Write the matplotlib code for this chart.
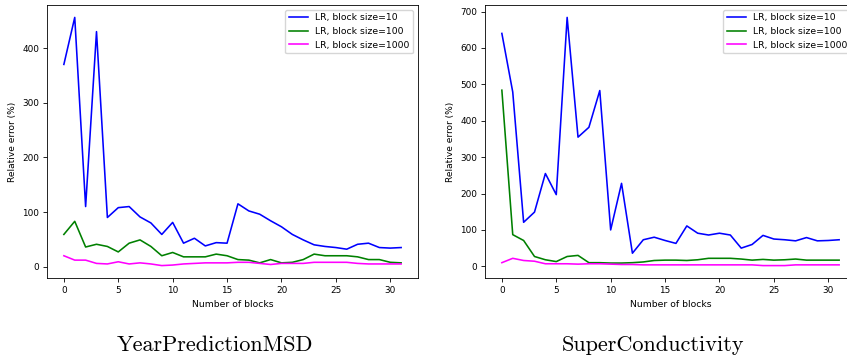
import numpy as np
import matplotlib
matplotlib.use('Agg')
import matplotlib.pyplot as plt

# Numero de bloques (eje x)
blocks = np.arange(32)

# YearPredictionMSD
msd_bs10 = [370, 456, 110, 430, 90, 108, 110, 91, 80, 59, 81, 43, 52, 38, 44, 43,
            115, 102, 96, 84, 73, 59, 49, 40, 37, 35, 32, 41, 43, 35, 34, 35]
msd_bs100 = [59, 83, 36, 41, 37, 27, 43, 49, 37, 20, 26, 18, 18, 18, 23, 20,
             13, 12, 7, 13, 7, 8, 13, 23, 20, 20, 20, 18, 13, 13, 8, 7]
msd_bs1000 = [20, 12, 12, 6, 5, 9, 5, 7, 5, 2, 3, 5, 6, 7, 7, 7,
              8, 8, 6, 4, 6, 6, 6, 8, 8, 8, 8, 6, 5, 5, 5, 5]

# SuperConductivity
sc_bs10 = [640, 479, 121, 149, 255, 197, 684, 355, 382, 483, 100, 228, 36, 73, 80, 71,
           63, 111, 91, 86, 91, 86, 50, 60, 85, 75, 73, 70, 79, 70, 71, 73]
sc_bs100 = [484, 87, 71, 27, 18, 13, 27, 30, 10, 10, 9, 9, 10, 12, 16, 17,
            17, 16, 18, 22, 22, 22, 20, 17, 19, 17, 18, 20, 17, 17, 17, 17]
sc_bs1000 = [10, 22, 16, 14, 7, 7, 7, 6, 7, 7, 6, 5, 5, 4, 4, 4,
             4, 4, 4, 4, 4, 4, 4, 4, 2, 2, 2, 4, 4, 4, 4, 4]

labels = ['LR, block size=10', 'LR, block size=100', 'LR, block size=1000']
colors = ['blue', 'green', 'magenta']
titles = ['YearPredictionMSD', 'SuperConductivity']

fig = plt.figure(figsize=(8.47, 3.55), dpi=100)
ax1 = fig.add_axes([47/847, 1 - 278/355, 371/847, 273/355])
ax2 = fig.add_axes([485/847, 1 - 278/355, 371/847, 273/355])

for ax, series in [(ax1, (msd_bs10, msd_bs100, msd_bs1000)),
                   (ax2, (sc_bs10, sc_bs100, sc_bs1000))]:
    for vals, lab, col in zip(series, labels, colors):
        ax.plot(blocks, vals, color=col, label=lab, linewidth=1.15)
    ax.set_xlabel('Number of blocks', fontsize=6.7)
    ax.set_ylabel('Relative error (%)', fontsize=6.5)
    ax.tick_params(labelsize=6.4, length=2.8, width=0.6, pad=2.8)
    for sp in ax.spines.values():
        sp.set_linewidth(0.6)
    ax.legend(loc='upper right', fontsize=6.7)

fig.text(215/847, 1 - 351/355, titles[0], family='cmr10', fontsize=16,
         ha='center', va='baseline')
fig.text(653/847, 1 - 351/355, titles[1], family='cmr10', fontsize=16,
         ha='center', va='baseline')

fig.savefig('out.png', dpi=100)
plt.close()
